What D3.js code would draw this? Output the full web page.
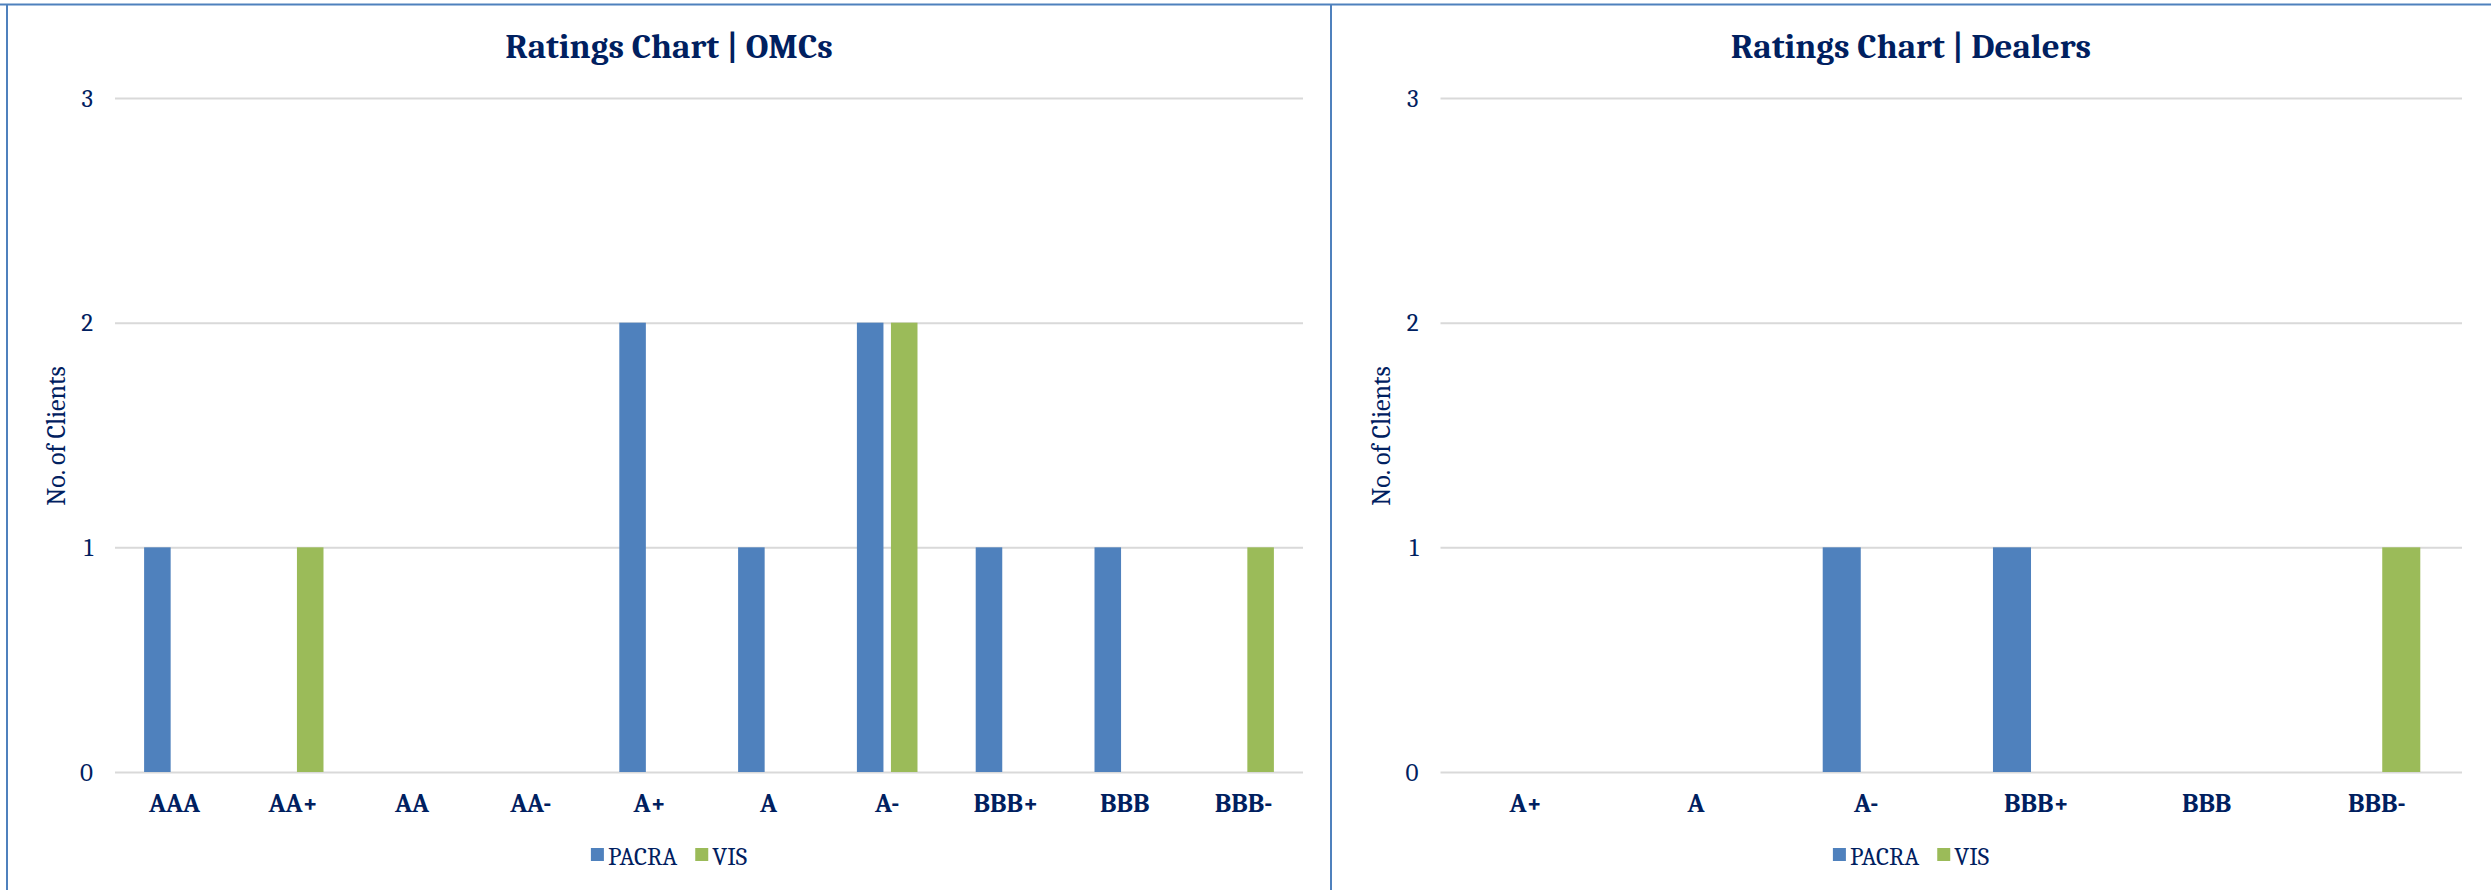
<!DOCTYPE html>
<html>
<head>
<meta charset="utf-8">
<script src="https://cdn.jsdelivr.net/npm/d3@7"></script>
<style>
  body { margin: 0; background: #fff; }
  text { font-family: Cambria, "Liberation Serif", "DejaVu Serif", serif; fill: #002060; }
</style>
</head>
<body>
<script>
// data
var series = ["PACRA", "VIS"]
var colors = ["#4f81bd", "#9bbb59"]

var omcCats = ["AAA", "AA+", "AA", "AA-", "A+", "A", "A-", "BBB+", "BBB", "BBB-"]
var omcPacra = [1, 0, 0, 0, 2, 1, 2, 1, 1, 0]
var omcVis = [0, 1, 0, 0, 0, 0, 2, 0, 0, 1]

var dealerCats = ["A+", "A", "A-", "BBB+", "BBB", "BBB-"]
var dealerPacra = [0, 0, 1, 1, 0, 0]
var dealerVis = [0, 0, 0, 0, 0, 1]

var yTicks = [0, 1, 2, 3]

var W = 2491, H = 890

var svg = d3.select("body").append("svg")
    .attr("width", W).attr("height", H)

// frame lines
svg.append("line").attr("x1", 0).attr("x2", W).attr("y1", 4.5).attr("y2", 4.5)
    .attr("stroke", "#4f81bd").attr("stroke-width", 2)
svg.append("line").attr("x1", 7).attr("x2", 7).attr("y1", 4).attr("y2", H)
    .attr("stroke", "#4f81bd").attr("stroke-width", 2)
svg.append("line").attr("x1", 1331).attr("x2", 1331).attr("y1", 4).attr("y2", H)
    .attr("stroke", "#4f81bd").attr("stroke-width", 2)

function drawChart(opt) {
  var g = svg.append("g")

  var x = d3.scaleBand()
      .domain(opt.cats)
      .range([opt.left, opt.right])
      .paddingInner(0.49)
      .paddingOuter(0.245)

  var x1 = d3.scaleBand()
      .domain(series)
      .range([0, x.bandwidth()])
      .paddingInner(0.22)

  var y = d3.scaleLinear().domain([0, 3]).range([772, 98])

  // gridlines + y ticks
  var yAxis = g.append("g")
      .attr("transform", `translate(${opt.left},0)`)
      .call(d3.axisLeft(y).tickValues(yTicks).tickFormat(d3.format("d"))
        .tickSize(-(opt.right - opt.left)).tickPadding(22))
  yAxis.select(".domain").remove()
  yAxis.selectAll("line").attr("stroke", "#d9d9d9").attr("stroke-width", 2)
  yAxis.selectAll("text").attr("font-size", 25).style("fill", "#002060")
      .attr("font-family", "Cambria, 'Liberation Serif', serif")

  // bars
  var rows = opt.cats.map(function(c, i){ return {cat: c, vals: [opt.pacra[i], opt.vis[i]]} })
  g.selectAll(".grp").data(rows).enter()
    .append("g")
      .attr("transform", function(d){ return `translate(${x(d.cat)},0)` })
    .selectAll("rect")
      .data(function(d){ return d.vals.map(function(v, k){ return {s: series[k], v: v, k: k} }) })
      .enter().filter(function(d){ return d.v > 0 })
    .append("rect")
      .attr("x", function(d){ return x1(d.s) })
      .attr("width", x1.bandwidth())
      .attr("y", function(d){ return y(d.v) })
      .attr("height", function(d){ return y(0) - y(d.v) })
      .attr("fill", function(d){ return colors[d.k] })

  // x labels
  var xAxis = g.append("g")
      .attr("transform", `translate(0,${y(0)})`)
      .call(d3.axisBottom(x).tickSize(0).tickPadding(22))
  xAxis.select(".domain").remove()
  xAxis.selectAll("text").attr("font-size", 26).attr("font-weight", "bold")
      .style("fill", "#002060").attr("font-family", "Cambria, 'Liberation Serif', serif")

  // title
  g.append("text")
      .attr("x", opt.center).attr("y", 58)
      .attr("text-anchor", "middle")
      .attr("font-size", 35).attr("font-weight", "bold")
      .text(opt.title)

  // y label
  g.append("text")
      .attr("transform", `translate(${opt.ylab},${436}) rotate(-90)`)
      .attr("text-anchor", "middle")
      .attr("dominant-baseline", "central")
      .attr("font-size", 26)
      .text("No. of Clients")

  // legend
  var leg = g.append("g")
  var items = leg.selectAll("g").data(series).enter().append("g")
  items.append("rect").attr("width", 13).attr("height", 13).attr("y", -7)
      .attr("fill", function(d, i){ return colors[i] })
  items.append("text").attr("x", 17).attr("y", 1)
      .attr("dominant-baseline", "central")
      .attr("font-size", 25).text(function(d){ return d })
  var off = 0
  items.each(function(){
    d3.select(this).attr("transform", `translate(${off},0)`)
    off += this.getBBox().width + 18
  })
  var lw = off - 18
  leg.attr("transform", `translate(${opt.center - lw / 2},855)`)
}

drawChart({title: "Ratings Chart | OMCs", cats: omcCats, pacra: omcPacra, vis: omcVis,
  left: 115, right: 1303, center: 669, ylab: 57})
drawChart({title: "Ratings Chart | Dealers", cats: dealerCats, pacra: dealerPacra, vis: dealerVis,
  left: 1440.5, right: 2462, center: 1911, ylab: 1382})
</script>
</body>
</html>
